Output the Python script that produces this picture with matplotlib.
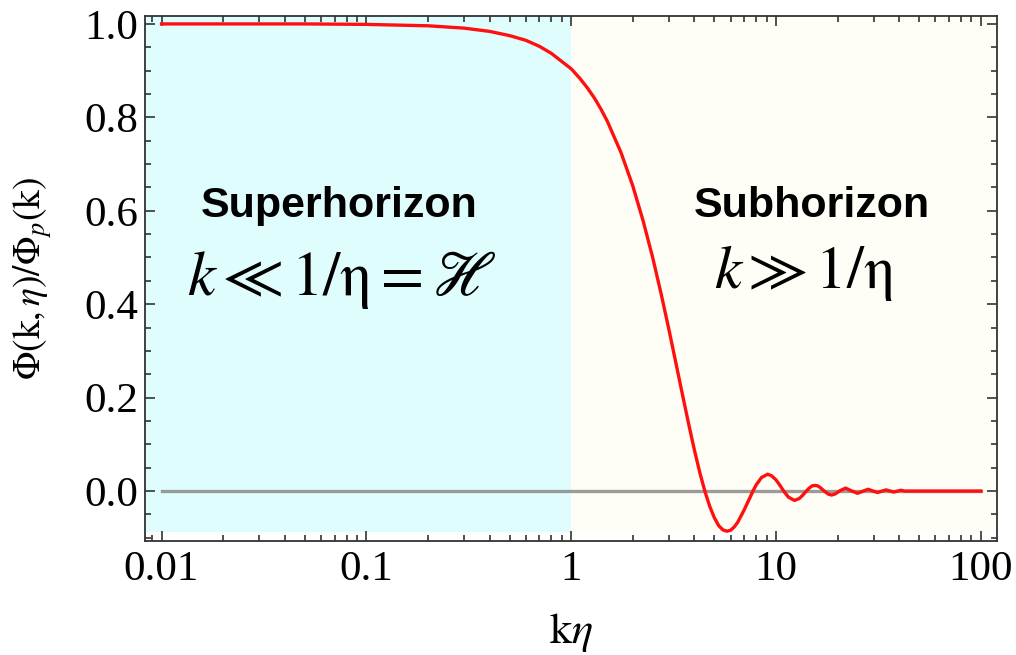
import numpy as np
import matplotlib
matplotlib.use('Agg')
import matplotlib.pyplot as plt
from matplotlib.ticker import LogLocator, MultipleLocator, FixedLocator

plt.rcParams['font.family'] = ['Liberation Serif', 'DejaVu Serif']
plt.rcParams['mathtext.fontset'] = 'stix'

# curve: k*eta and Phi(k,eta)/Phi_p(k)
k_eta = [0.01, 0.05, 0.1, 0.2, 0.3, 0.4, 0.5, 0.6, 0.7, 0.8, 1.0, 1.1, 1.2, 1.3, 1.4,
         1.5, 1.75, 2.0, 2.25, 2.5, 2.75, 3.0, 3.25, 3.5, 3.75, 4.0, 4.25, 4.5, 4.75,
         5.0, 5.25, 5.5, 5.76, 6.0, 6.25, 6.5, 7.0, 7.5, 7.72, 8.0, 8.5, 9.1, 9.5,
         10.0, 10.5, 10.9, 11.5, 12.3, 13.0, 13.5, 14.07, 14.5, 15.0, 15.5, 16.0,
         16.5, 17.2, 18.0, 18.7, 19.5, 20.4, 21.85, 23.5, 25.0, 26.7, 28.2, 29.8,
         31.3, 33.0, 34.5, 36.1, 37.6, 39.3, 40.8, 42.4, 100.0]
phi = [1.0, 1.0, 0.999, 0.996, 0.991, 0.984, 0.975, 0.965, 0.952, 0.937, 0.904,
       0.884, 0.863, 0.841, 0.817, 0.792, 0.725, 0.653, 0.577, 0.500, 0.422, 0.346,
       0.273, 0.205, 0.143, 0.087, 0.039, -0.001, -0.033, -0.057, -0.074, -0.083,
       -0.086, -0.084, -0.077, -0.067, -0.040, -0.012, 0.0, 0.013, 0.029, 0.036,
       0.033, 0.024, 0.011, 0.0, -0.013, -0.020, -0.016, -0.009, 0.0, 0.006, 0.011,
       0.012, 0.011, 0.007, 0.0, -0.0065, -0.0086, -0.006, 0.0, 0.0063, 0.0,
       -0.0048, 0.0, 0.0038, 0.0, -0.0031, 0.0, 0.0025, 0.0, -0.0021, 0.0, 0.0018,
       0.0, 0.0]

x_ticks = [0.01, 0.1, 1, 10, 100]
x_ticklabels = ['0.01', '0.1', '1', '10', '100']
y_ticks = [0.0, 0.2, 0.4, 0.6, 0.8, 1.0]
y_ticklabels = ['0.0', '0.2', '0.4', '0.6', '0.8', '1.0']

horizon = 1.0
x_lo, x_hi = 0.0083, 120
y_lo, y_hi = -0.107, 1.017
shade_bottom = -0.088

fig = plt.figure(figsize=(10.16, 6.55), dpi=100)
ax = fig.add_axes([0.1427, 0.174, 0.8386, 0.8016])

# shaded regions
ax.fill_between([x_lo, horizon], shade_bottom, y_hi, color='#e0fdfd', lw=0, zorder=0)
ax.fill_between([horizon, x_hi], shade_bottom, y_hi, color='#fffef6', lw=0, zorder=0)

ax.plot([0.01, 100], [0, 0], color='#7a7a7a', lw=2.4, alpha=0.75, zorder=2)
ax.plot(k_eta, phi, color='#ff1010', lw=2.4, zorder=3)

ax.set_xscale('log')
ax.set_xlim(x_lo, x_hi)
ax.set_ylim(y_lo, y_hi)

ax.xaxis.set_major_locator(FixedLocator(x_ticks))
ax.set_xticklabels(x_ticklabels)
ax.xaxis.set_minor_locator(LogLocator(base=10, subs=np.arange(2, 10)))
ax.xaxis.set_minor_formatter(plt.NullFormatter())
ax.yaxis.set_major_locator(FixedLocator(y_ticks))
ax.set_yticklabels(y_ticklabels)
ax.yaxis.set_minor_locator(MultipleLocator(0.05))

ax.tick_params(which='both', direction='in', top=True, right=True, width=1.1,
               color='#222222', labelsize=31)
ax.tick_params(which='major', length=7.5)
ax.tick_params(which='minor', length=4)
ax.tick_params(axis='x', pad=7)
ax.tick_params(axis='y', pad=5)
for s in ax.spines.values():
    s.set_color('#333333')
    s.set_linewidth(1.3)

ax.set_xlabel(r'$\mathrm{k}\eta$', fontsize=32, labelpad=16)
ax.set_ylabel(r'$\Phi(\mathrm{k},\eta)/\Phi_p(\mathrm{k})$', fontsize=27, labelpad=22)

ax.text(0.074, 0.61, 'Superhorizon', family='Liberation Sans', weight='bold',
        fontsize=31, ha='center', va='center')
ax.text(0.0755, 0.42, r'$k \ll 1/\mathrm{\eta} = \mathscr{H}$', fontsize=45,
        ha='center', va='baseline')
ax.text(15.0, 0.61, 'Subhorizon', family='Liberation Sans', weight='bold',
        fontsize=31, ha='center', va='center')
ax.text(13.7, 0.435, r'$k \gg 1/\mathrm{\eta}$', fontsize=44,
        ha='center', va='baseline')

fig.savefig('out.png', dpi=100)
